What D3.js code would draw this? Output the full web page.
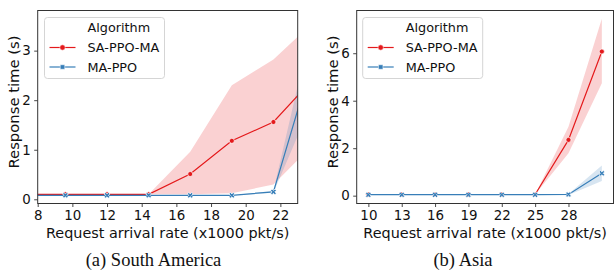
<!DOCTYPE html>
<html>
<head>
<meta charset="utf-8">
<script src="https://cdn.jsdelivr.net/npm/d3@7"></script>
<style>
    body { margin: 0; background: #fff; }
    svg { display: block; font-family: 'DejaVu Sans', sans-serif; }
    .caption { font-family: 'Liberation Serif', 'Times New Roman', serif; }
</style>
</head>
<body>
<svg id="chart" width="614" height="276"></svg>
<script>
// South America panel
const saRate = [7.2, 9.6, 12, 14.4, 16.8, 19.2, 21.6, 24];
const saSappo = [0.1, 0.1, 0.1, 0.1, 0.51, 1.18, 1.56, 2.47];
const saSappoLo = [0.1, 0.1, 0.1, 0.1, 0.1, 0.12, 0.3, 1.14];
const saSappoHi = [0.1, 0.1, 0.1, 0.1, 0.96, 2.3, 2.82, 3.61];
const saMappo = [0.08, 0.08, 0.08, 0.08, 0.08, 0.08, 0.15, 2.98];
const saMappoLo = [0.08, 0.08, 0.08, 0.08, 0.08, 0.08, 0.13, 2.1];
const saMappoHi = [0.08, 0.08, 0.08, 0.08, 0.08, 0.08, 0.17, 3.8];
const saXTicks = [8, 10, 12, 14, 16, 18, 20, 22];
const saYTicks = [0, 1, 2, 3];

// Asia panel
const asRate = [10, 13, 16, 19, 22, 25, 28, 31];
const asSappo = [0.05, 0.05, 0.05, 0.05, 0.05, 0.05, 2.35, 6.07];
const asSappoLo = [0.05, 0.05, 0.05, 0.05, 0.05, 0.05, 1.79, 4.74];
const asSappoHi = [0.05, 0.05, 0.05, 0.05, 0.05, 0.05, 2.9, 7.45];
const asMappo = [0.04, 0.04, 0.04, 0.04, 0.04, 0.04, 0.05, 0.94];
const asMappoLo = [0.04, 0.04, 0.04, 0.04, 0.04, 0.04, 0.03, 0.62];
const asMappoHi = [0.04, 0.04, 0.04, 0.04, 0.04, 0.04, 0.07, 1.27];
const asXTicks = [10, 13, 16, 19, 22, 25, 28];
const asYTicks = [0, 2, 4, 6];

const algorithms = ['SA-PPO-MA', 'MA-PPO'];
const colors = ['#e41a1c', '#377eb8'];

const svg = d3.select('#chart');

function drawPanel(opts) {
    const { left, right, top, bottom, xDomain, yDomain, xTicks, yTicks, rate, series, legendX, caption, captionX } = opts;
    const x = d3.scaleLinear().domain(xDomain).range([left, right]);
    const y = d3.scaleLinear().domain(yDomain).range([bottom, top]);

    const id = 'clip' + Math.round(left);
    svg.append('clipPath').attr('id', id)
        .append('rect').attr('x', left).attr('y', top).attr('width', right - left).attr('height', bottom - top);

    const plot = svg.append('g').attr('clip-path', `url(#${id})`);

    series.forEach((s, i) => {
        const area = d3.area()
            .x((d, j) => x(rate[j]))
            .y0((d, j) => y(s.lo[j]))
            .y1((d, j) => y(s.hi[j]));
        plot.append('path').datum(s.mean).attr('d', area)
            .attr('fill', colors[i]).attr('fill-opacity', 0.2).attr('stroke', 'none');
    });

    series.forEach((s, i) => {
        const line = d3.line().x((d, j) => x(rate[j])).y(d => y(d));
        plot.append('path').datum(s.mean).attr('d', line)
            .attr('fill', 'none').attr('stroke', colors[i]).attr('stroke-width', 1.2);
        const sym = i === 0 ? d3.symbol(d3.symbolCircle, 20) : d3.symbol(d3.symbolCross, 20);
        plot.selectAll(null).data(s.mean).enter().append('path')
            .attr('d', sym)
            .attr('transform', (d, j) => `translate(${x(rate[j])},${y(d)})` + (i === 1 ? ' rotate(45)' : ''))
            .attr('fill', colors[i]).attr('stroke', '#fff').attr('stroke-width', 0.7);
    });

    // axes
    const xAxis = svg.append('g').attr('transform', `translate(0,${bottom})`)
        .call(d3.axisBottom(x).tickValues(xTicks).tickFormat(d3.format('d')).tickSize(3.5).tickPadding(3.5));
    const yAxis = svg.append('g').attr('transform', `translate(${left},0)`)
        .call(d3.axisLeft(y).tickValues(yTicks).tickFormat(d3.format('d')).tickSize(3.5).tickPadding(3.5));
    [xAxis, yAxis].forEach(a => {
        a.select('.domain').remove();
        a.selectAll('line').attr('stroke', '#333').attr('stroke-width', 0.9);
        a.selectAll('text').attr('font-size', 13.4).attr('fill', '#111').attr('font-family', 'DejaVu Sans');
    });

    svg.append('rect').attr('x', left).attr('y', top).attr('width', right - left).attr('height', bottom - top)
        .attr('fill', 'none').attr('stroke', '#333').attr('stroke-width', 1);

    svg.append('text').attr('x', (left + right) / 2).attr('y', 237.5)
        .attr('text-anchor', 'middle').attr('font-size', 14.4).attr('fill', '#111')
        .text('Request arrival rate (x1000 pkt/s)');
    svg.append('text')
        .attr('transform', `translate(${left - 18.3},102) rotate(-90)`)
        .attr('text-anchor', 'middle').attr('font-size', 14.8).attr('fill', '#111')
        .text('Response time (s)');

    // legend
    const lg = svg.append('g').attr('transform', `translate(${legendX},17.5)`);
    lg.append('rect').attr('width', 120).attr('height', 61).attr('rx', 3)
        .attr('fill', '#fff').attr('fill-opacity', 0.8).attr('stroke', '#d0d0d0').attr('stroke-width', 0.9);
    lg.append('text').attr('x', 43).attr('y', 9.5).attr('font-size', 12.8).attr('fill', '#111')
        .attr('dominant-baseline', 'central').text('Algorithm');
    algorithms.forEach((name, i) => {
        const ry = 30 + i * 19.5;
        lg.append('line').attr('x1', 5).attr('x2', 31).attr('y1', ry).attr('y2', ry)
            .attr('stroke', colors[i]).attr('stroke-width', 1.2);
        const sym = i === 0 ? d3.symbol(d3.symbolCircle, 22) : d3.symbol(d3.symbolSquare, 20);
        lg.append('path').attr('d', sym).attr('transform', `translate(18,${ry})`)
            .attr('fill', colors[i]).attr('stroke', '#fff').attr('stroke-width', 0.5);
        lg.append('text').attr('x', 43).attr('y', ry).attr('font-size', 12.8).attr('fill', '#111')
            .attr('dominant-baseline', 'central').text(name);
    });

    svg.append('text').attr('class', 'caption').attr('x', captionX).attr('y', 266)
        .attr('text-anchor', 'middle').attr('font-size', 18.5).attr('fill', '#111').text(caption);
}

drawPanel({
    left: 37.7, right: 297.7, top: 10.5, bottom: 203.5,
    xDomain: [8, 23], yDomain: [-0.085, 3.81],
    xTicks: saXTicks, yTicks: saYTicks, rate: saRate,
    series: [
        { mean: saSappo, lo: saSappoLo, hi: saSappoHi },
        { mean: saMappo, lo: saMappoLo, hi: saMappoHi },
    ],
    legendX: 44.5, caption: '(a) South America', captionX: 153.5,
});

drawPanel({
    left: 356.7, right: 613.5, top: 10.5, bottom: 203.5,
    xDomain: [8.95, 32.05], yDomain: [-0.33, 7.8],
    xTicks: asXTicks, yTicks: asYTicks, rate: asRate,
    series: [
        { mean: asSappo, lo: asSappoLo, hi: asSappoHi },
        { mean: asMappo, lo: asMappoLo, hi: asMappoHi },
    ],
    legendX: 362.7, caption: '(b) Asia', captionX: 463,
});
</script>
</body>
</html>
